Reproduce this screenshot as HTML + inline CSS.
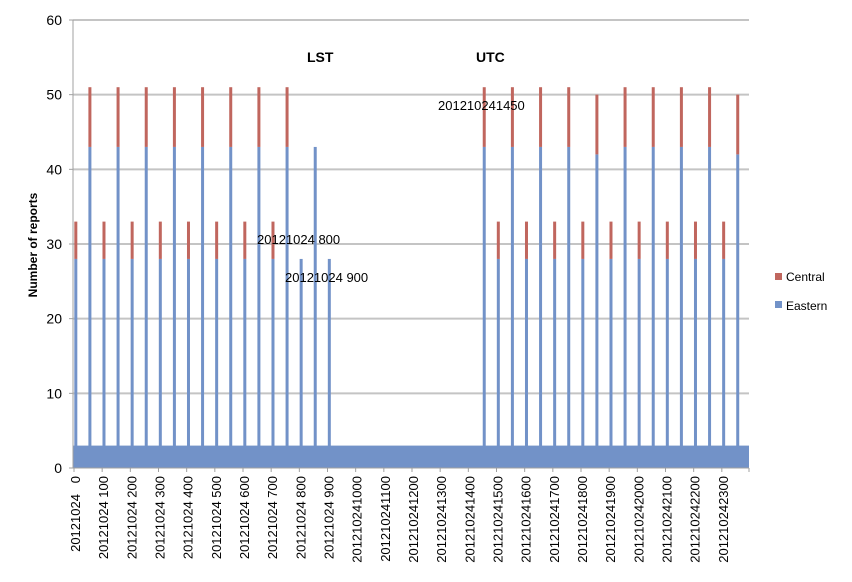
<!DOCTYPE html>
<html><head><meta charset="utf-8"><style>
body{margin:0;background:#fff;}
svg{display:block;font-family:"Liberation Sans",sans-serif;}
</style></head><body>
<svg id="chart" width="852" height="582" viewBox="0 0 852 582">
<g id="grid"></g><g id="bars"></g><g id="axes"></g><g id="labels"></g>
<text transform="translate(37,245) rotate(-90)" text-anchor="middle" font-size="12" font-weight="bold">Number of reports</text>
<text x="307" y="62" font-size="14" font-weight="bold">LST</text>
<text x="476" y="62" font-size="14" font-weight="bold">UTC</text>
<text x="438" y="110" font-size="13">201210241450</text>
<text x="257" y="244" font-size="13">20121024 800</text>
<text x="285" y="282" font-size="13">20121024 900</text>
<g>
<rect x="775" y="273" width="7" height="7" fill="#c0665e"/>
<text x="786" y="281" font-size="12">Central</text>
<rect x="775" y="301" width="7" height="7" fill="#7292c8"/>
<text x="786" y="310" font-size="12">Eastern</text>
</g>
</svg>
<script>
const yTicks=[0,10,20,30,40,50,60];
const hourLabels=["20121024   0","20121024 100","20121024 200","20121024 300","20121024 400","20121024 500","20121024 600","20121024 700","20121024 800","20121024 900","201210241000","201210241100","201210241200","201210241300","201210241400","201210241500","201210241600","201210241700","201210241800","201210241900","201210242000","201210242100","201210242200","201210242300"];
// half-hour slot index (0..47)
const slots=[0,1,2,3,4,5,6,7,8,9,10,11,12,13,14,15,16,17,18,29,30,31,32,33,34,35,36,37,38,39,40,41,42,43,44,45,46,47];
const eastern=[28,43,28,43,28,43,28,43,28,43,28,43,28,43,28,43,28,43,28,43,28,43,28,43,28,43,28,42,28,43,28,43,28,43,28,43,28,42];
const central=[5,8,5,8,5,8,5,8,5,8,5,8,5,8,5,8,0,0,0,8,5,8,5,8,5,8,5,8,5,8,5,8,5,8,5,8,5,8];
const baseLevel=[3];
const X0=73,X1=749,Y0=468,Y1=20,NS=48;
const sw=(X1-X0)/NS;
const y=v=>Y0-(v/60)*(Y0-Y1);
const xs=i=>X0+(i+0.2)*sw;
const NS_="http://www.w3.org/2000/svg";
function mk(tag,attrs,parent){const e=document.createElementNS(NS_,tag);for(const k in attrs)e.setAttribute(k,attrs[k]);parent.appendChild(e);return e;}
const grid=document.getElementById('grid'),bars=document.getElementById('bars'),axes=document.getElementById('axes'),labels=document.getElementById('labels');
yTicks.forEach(t=>{
 if(t>0){const l=mk('line',{x1:X0,x2:X1,y1:y(t),y2:y(t),stroke:'#c4c4c4','stroke-width':2},grid);
 
 }
 const tx=mk('text',{x:62,y:y(t)+5,'text-anchor':'end','font-size':14},labels);
 
 
 tx.textContent=t;
});
const base=mk('rect',{x:X0,y:y(baseLevel[0]),width:X1-X0,height:Y0-y(baseLevel[0]),fill:'#7292c8'},bars);


slots.forEach((s,i)=>{
 const x=xs(s);
 const e=mk('rect',{x:x-1.5,y:y(eastern[i]),width:3,height:Y0-y(eastern[i]),fill:'#7292c8'},bars);
 
 
 if(central[i]>0){
  const c=mk('rect',{x:x-1.5,y:y(eastern[i]+central[i]),width:3,height:y(eastern[i])-y(eastern[i]+central[i]),fill:'#c0665e'},bars);
  
  
 }
});
const ya=mk('line',{x1:X0,x2:X0,y1:Y1,y2:Y0,stroke:'#a0a0a0','stroke-width':1},axes);


const xa=mk('line',{x1:X0,x2:X1,y1:Y0,y2:Y0,stroke:'#a0a0a0','stroke-width':1},axes);


yTicks.forEach(t=>{mk('line',{x1:X0-4,x2:X0,y1:y(t),y2:y(t),stroke:'#a0a0a0'},axes);});
hourLabels.forEach((lb,h)=>{
 const tx=X0+h*2*sw;
 mk('line',{x1:tx+1,x2:tx+1,y1:Y0,y2:Y0+4,stroke:'#a0a0a0'},axes);
 const t=mk('text',{transform:`translate(${tx+7},476) rotate(-90)`,'text-anchor':'end','font-size':13,'xml:space':'preserve'},labels);
 
 
 t.style.whiteSpace='pre';
 t.textContent=lb;
});
mk('line',{x1:X1,x2:X1,y1:Y0,y2:Y0+4,stroke:'#a0a0a0'},axes);
</script>
</body></html>
